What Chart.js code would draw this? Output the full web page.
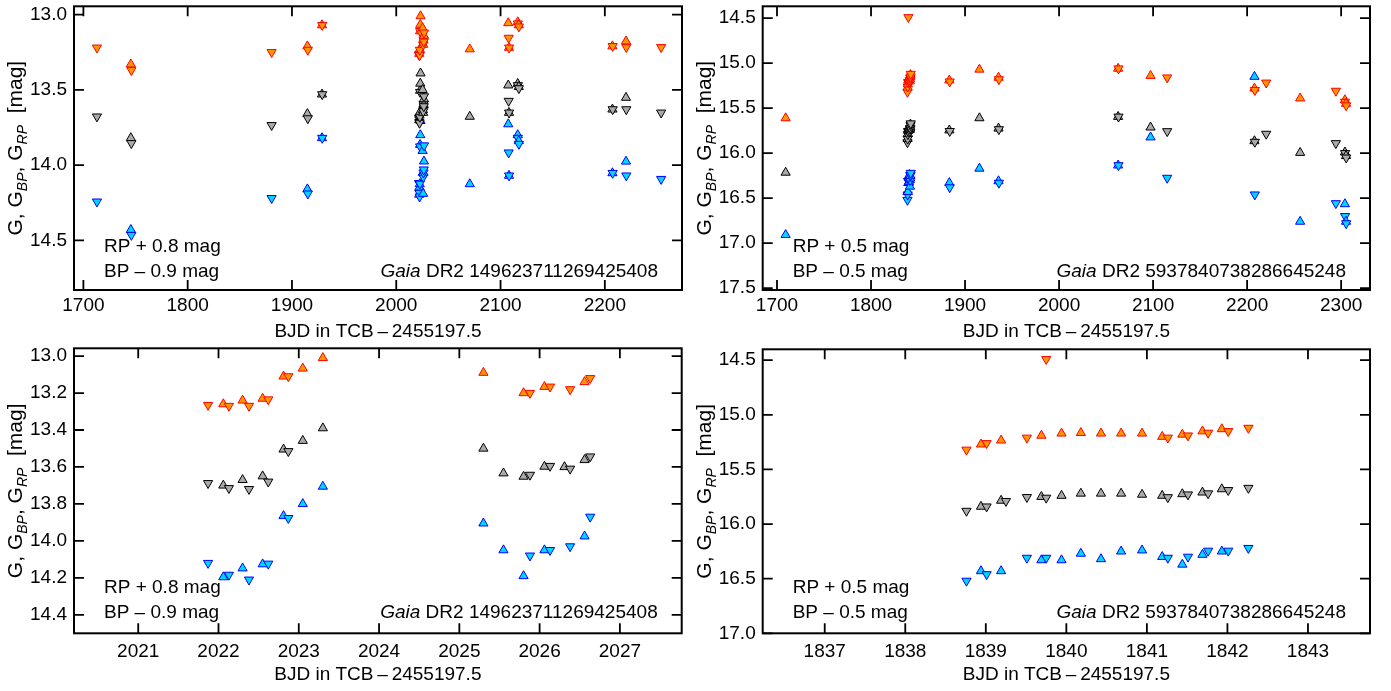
<!DOCTYPE html>
<html>
<head>
<meta charset="utf-8">
<title>Gaia DR2 light curves</title>
<script src="https://cdn.jsdelivr.net/npm/chart.js@4.4.0/dist/chart.umd.min.js"></script>
<style>
    html, body { margin: 0; padding: 0; background: #fff; }
    #wrap { position: relative; width: 1391px; height: 691px; overflow: hidden; }
    #wrap canvas { position: absolute; left: 0; top: 0; }
</style>
</head>
<body>
<div id="wrap">
    <canvas id="c1" width="1391" height="691"></canvas>
    <canvas id="c2" width="1391" height="691"></canvas>
    <canvas id="c3" width="1391" height="691"></canvas>
    <canvas id="c4" width="1391" height="691"></canvas>
</div>
<script>
// Gaia DR2 149623711269425408 -- BJD - 2455197.5, plotted magnitudes (RP + 0.8, BP - 0.9)
var star1Time = [1713.0, 1745.5, 1746.0, 1880.5, 1914.8, 1915.2, 1928.8, 1929.0,
    2021.87, 2022.06, 2022.13, 2022.30, 2022.38, 2022.55, 2022.62, 2022.81, 2022.87, 2023.05, 2023.30,
    2025.30, 2025.55, 2025.80, 2025.88, 2026.06, 2026.13, 2026.31, 2026.38, 2026.56, 2026.63,
    2070.5, 2107.4, 2107.8, 2108.1, 2108.2, 2116.5, 2116.6, 2117.5, 2117.6,
    2207.3, 2207.5, 2220.3, 2220.6, 2254.0];
// u = preceding field of view (triangle up), d = following (triangle down)
var star1Dir = ['d', 'u', 'd', 'd', 'u', 'd', 'u', 'd',
    'd', 'u', 'd', 'u', 'd', 'u', 'd', 'u', 'd', 'u', 'u',
    'u', 'u', 'u', 'd', 'u', 'd', 'u', 'd', 'u', 'd',
    'u', 'u', 'd', 'u', 'd', 'u', 'd', 'u', 'd',
    'u', 'd', 'u', 'd', 'd'];
var star1RP = [13.22, 13.33, 13.37, 13.25, 13.21, 13.235, 13.07, 13.07,
    13.265, 13.26, 13.27, 13.24, 13.27, 13.23, 13.235, 13.11, 13.11, 13.067, 13.01,
    13.09, null, 13.20, 13.20, 13.166, 13.166, null, 13.18, 13.14, 13.12,
    13.23, 13.056, 13.155, 13.22, 13.22, 13.05, 13.06, 13.07, 13.08,
    13.21, 13.21, 13.177, 13.217, 13.217];
var star1G = [13.678, 13.82, 13.855, 13.735, 13.66, 13.69, 13.53, 13.53,
    13.688, 13.70, 13.715, 13.67, 13.72, 13.65, 13.68, 13.505, 13.515, 13.458, 13.39,
    13.50, 13.634, 13.652, 13.643, 13.598, 13.595, 13.60, 13.61, 13.562, 13.544,
    13.678, 13.47, 13.574, 13.652, 13.652, 13.46, 13.47, 13.48, 13.49,
    13.63, 13.63, 13.552, 13.63, 13.652];
var star1BP = [14.243, 14.43, 14.465, 14.22, 14.16, 14.19, 13.82, 13.82,
    14.12, 14.196, 14.184, 14.148, 14.21, 14.126, 14.124, 13.865, 13.877, 13.80, 13.706,
    13.905, 14.05, 14.19, 14.08, 14.05, 14.05, null, 14.03, 13.975, 13.87,
    14.126, 13.728, 13.917, 14.07, 14.07, 13.80, 13.82, 13.84, 13.86,
    14.053, 14.053, 13.976, 14.07, 14.093];

// Gaia DR2 5937840738286645248 (RP + 0.5, BP - 0.5)
var star2Time = [1709.2,
    1838.76, 1838.94, 1839.01, 1839.19, 1839.25, 1839.51, 1839.69, 1839.75, 1839.94, 1840.18, 1840.43,
    1840.68, 1840.94, 1841.19, 1841.26, 1841.44, 1841.51, 1841.69, 1841.76, 1841.93, 1842.01, 1842.26,
    1883.3, 1883.7, 1915.3, 1935.6, 1936.0, 2062.8, 2063.2, 2097.3, 2115.0,
    2207.8, 2208.2, 2220.3, 2256.4, 2294.4, 2304.0, 2304.2, 2305.2, 2305.4];
var star2Dir = ['u',
    'd', 'u', 'd', 'u', 'd', 'd', 'u', 'd', 'u', 'u', 'u',
    'u', 'u', 'u', 'd', 'u', 'd', 'u', 'd', 'u', 'd', 'd',
    'u', 'd', 'u', 'u', 'd', 'u', 'd', 'u', 'd',
    'u', 'd', 'd', 'u', 'd', 'u', 'd', 'u', 'd'];
var star2RP = [15.61,
    15.32, 15.27, 15.26, 15.234, null, 15.21, 15.19, 14.49, 15.17, 15.165, 15.17,
    15.17, 15.17, 15.20, 15.21, 15.18, 15.19, 15.15, 15.165, 15.13, 15.15, 15.12,
    15.19, 15.205, 15.07, 15.16, 15.18, 15.06, 15.06, 15.14, 15.16,
    15.28, 15.30, 15.217, 15.39, 15.308, 15.41, 15.43, 15.45, 15.47];
var star2G = [16.215,
    15.88, 15.84, 15.84, 15.785, 15.79, 15.754, 15.75, 15.76, 15.74, 15.72, 15.72,
    15.72, 15.73, 15.74, 15.755, 15.725, 15.73, 15.71, 15.72, 15.68, 15.69, 15.67,
    15.745, 15.755, 15.61, 15.725, 15.735, 15.595, 15.595, 15.713, 15.757,
    15.865, 15.875, 15.786, 15.995, 15.89, 15.99, 16.0, 16.03, 16.05];
var star2BP = [16.907,
    16.52, 16.43, 16.46, 16.43, null, 16.31, 16.33, 16.31, 16.33, 16.27, 16.32,
    16.25, 16.24, 16.30, 16.31, 16.37, 16.30, 16.28, 16.245, 16.25, 16.245, 16.22,
    16.33, 16.38, 16.17, 16.31, 16.33, 16.135, 16.135, 15.823, 16.275,
    15.15, 16.46, null, 16.76, 16.557, 16.565, 16.70, 16.76, 16.78];

var FONT = '"Liberation Sans", Arial, Helvetica, sans-serif';
var W = 1391, H = 691;
var TICK = 10;

Chart.defaults.font.family = FONT;
Chart.defaults.font.size = 19;
Chart.defaults.color = '#000';

function points(time, mag, dir) {
    var out = [];
    for (var i = 0; i < time.length; i++) {
        if (mag[i] === null) continue;
        out.push({x: time[i], y: mag[i], d: dir[i]});
    }
    return out;
}

function band(label, data, edge, fill) {
    return {
        label: label,
        data: data,
        pointStyle: 'triangle',
        pointRadius: 5.3,
        pointBorderWidth: 1,
        pointBorderColor: edge,
        pointBackgroundColor: fill,
        rotation: function (c) { return c.raw && c.raw.d === 'd' ? 180 : 0; }
    };
}

function drawYTitle(ctx, x, y) {
    var big = '21px ' + FONT, small = 'italic 14px ' + FONT;
    var parts = [['G, G', big, 0], ['BP', small, 5], [', G', big, 0], ['RP', small, 5], ['  [mag]', big, 0]];
    ctx.save();
    ctx.translate(x, y);
    ctx.rotate(-Math.PI / 2);
    var w = 0;
    parts.forEach(function (p) { ctx.font = p[1]; w += ctx.measureText(p[0]).width; });
    var cx = -w / 2;
    ctx.textAlign = 'left';
    ctx.textBaseline = 'alphabetic';
    parts.forEach(function (p) {
        ctx.font = p[1];
        ctx.fillText(p[0], cx, p[2]);
        cx += ctx.measureText(p[0]).width;
    });
    ctx.restore();
}

// frame with inward ticks on all sides plus the panel texts
var framePlugin = {
    id: 'frame',
    afterDraw: function (chart, args, o) {
        var ctx = chart.ctx, a = chart.chartArea;
        var xs = chart.scales.x, ys = chart.scales.y;
        ctx.save();
        ctx.strokeStyle = '#000';
        ctx.lineWidth = 1.8;
        ctx.beginPath();
        xs.ticks.forEach(function (t) {
            var px = xs.getPixelForValue(t.value);
            ctx.moveTo(px, a.bottom); ctx.lineTo(px, a.bottom - TICK);
            ctx.moveTo(px, a.top); ctx.lineTo(px, a.top + TICK);
        });
        ys.ticks.forEach(function (t) {
            var py = ys.getPixelForValue(t.value);
            ctx.moveTo(a.left, py); ctx.lineTo(a.left + TICK, py);
            ctx.moveTo(a.right, py); ctx.lineTo(a.right - TICK, py);
        });
        ctx.stroke();
        ctx.lineWidth = 2;
        ctx.strokeRect(a.left, a.top, a.right - a.left, a.bottom - a.top);

        ctx.fillStyle = '#000';
        ctx.font = '19px ' + FONT;
        ctx.textAlign = 'center';
        ctx.textBaseline = 'alphabetic';
        ctx.fillText('BJD in TCB\u2009\u2013\u20092455197.5', (a.left + a.right) / 2, a.bottom + 47);

        drawYTitle(ctx, a.left - 52, (a.top + a.bottom) / 2);

        ctx.textAlign = 'left';
        ctx.fillText(o.rpNote, a.left + 30, a.bottom - o.noteDy[0]);
        ctx.fillText(o.bpNote, a.left + 30, a.bottom - o.noteDy[1]);

        var rest = ' DR2 ' + o.source;
        ctx.font = '19px ' + FONT;
        var wRest = ctx.measureText(rest).width;
        ctx.font = 'italic 19px ' + FONT;
        var wGaia = ctx.measureText('Gaia').width;
        var x0 = a.right - 24 - wRest - wGaia;
        ctx.fillText('Gaia', x0, a.bottom - o.noteDy[1]);
        ctx.font = '19px ' + FONT;
        ctx.fillText(rest, x0 + wGaia, a.bottom - o.noteDy[1]);
        ctx.restore();
    }
};

function makePanel(id, area, xr, yr, xPad, datasets, notes) {
    var zeroPad = function (s) {
        s.paddingLeft = 0; s.paddingRight = 0; s.paddingTop = 0; s.paddingBottom = 0;
    };
    return new Chart(document.getElementById(id).getContext('2d'), {
        type: 'scatter',
        data: {datasets: datasets},
        plugins: [framePlugin],
        options: {
            responsive: false,
            animation: false,
            events: [],
            layout: {
                padding: {left: area.l - 60, right: W - area.r, top: area.t, bottom: H - area.b - 40}
            },
            plugins: {
                legend: {display: false},
                tooltip: {enabled: false},
                frame: notes
            },
            scales: {
                x: {
                    type: 'linear',
                    min: xr[0], max: xr[1],
                    grid: {display: false, drawTicks: false},
                    border: {display: false},
                    ticks: {
                        stepSize: xr[2], includeBounds: false, padding: xPad,
                        autoSkip: false, maxRotation: 0,
                        callback: function (v) { return String(v); }
                    },
                    afterFit: function (s) { s.height = 40; zeroPad(s); }
                },
                y: {
                    type: 'linear',
                    reverse: true,
                    min: yr[0], max: yr[1],
                    grid: {display: false, drawTicks: false},
                    border: {display: false},
                    ticks: {
                        stepSize: yr[2], includeBounds: false, padding: 7, autoSkip: false,
                        callback: function (v) { return v.toFixed(1); }
                    },
                    afterFit: function (s) { s.width = 60; zeroPad(s); }
                }
            }
        }
    });
}

function star1Sets() {
    return [
        band('RP + 0.8 mag', points(star1Time, star1RP, star1Dir), 'rgb(255,0,0)', 'rgb(255,150,0)'),
        band('G', points(star1Time, star1G, star1Dir), '#000', 'rgb(170,170,170)'),
        band('BP - 0.9 mag', points(star1Time, star1BP, star1Dir), 'rgb(0,0,255)', 'rgb(0,215,255)')
    ];
}
function star2Sets() {
    return [
        band('RP + 0.5 mag', points(star2Time, star2RP, star2Dir), 'rgb(255,0,0)', 'rgb(255,150,0)'),
        band('G', points(star2Time, star2G, star2Dir), '#000', 'rgb(170,170,170)'),
        band('BP - 0.5 mag', points(star2Time, star2BP, star2Dir), 'rgb(0,0,255)', 'rgb(0,215,255)')
    ];
}

var notes1Top = {rpNote: 'RP + 0.8 mag', bpNote: 'BP \u2013 0.9 mag', source: '149623711269425408', noteDy: [38, 13]};
var notes2Top = {rpNote: 'RP + 0.5 mag', bpNote: 'BP \u2013 0.5 mag', source: '5937840738286645248', noteDy: [38, 13]};
var notes1Bot = {rpNote: 'RP + 0.8 mag', bpNote: 'BP \u2013 0.9 mag', source: '149623711269425408', noteDy: [40, 15]};
var notes2Bot = {rpNote: 'RP + 0.5 mag', bpNote: 'BP \u2013 0.5 mag', source: '5937840738286645248', noteDy: [40, 15]};

makePanel('c1', {l: 74, r: 682, t: 5, b: 290}, [1691, 2274, 100], [12.945, 14.83, 0.5], 4, star1Sets(), notes1Top);
makePanel('c2', {l: 762.7, r: 1370, t: 5, b: 290}, [1684.8, 2330.7, 100], [14.368, 17.52, 0.5], 4, star2Sets(), notes2Top);
makePanel('c3', {l: 74, r: 681.7, t: 348.3, b: 633.3}, [2020.2, 2027.77, 1], [12.958, 14.5, 0.2], 7, star1Sets(), notes1Bot);
makePanel('c4', {l: 762.7, r: 1370, t: 349.3, b: 633.3}, [1836.23, 1843.77, 1], [14.40, 17.0, 0.5], 7, star2Sets(), notes2Bot);
</script>
</body>
</html>
